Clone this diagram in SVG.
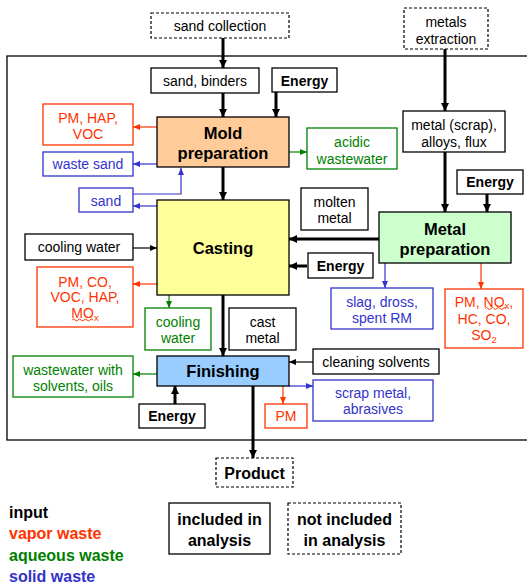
<svg xmlns="http://www.w3.org/2000/svg" width="527" height="586" viewBox="0 0 527 586">
<defs>
<style>
text{font-family:"Liberation Sans",Arial,sans-serif;font-size:14px;text-anchor:middle}
.b{font-weight:bold}
.big{font-weight:bold;font-size:16.5px}
.lg{font-weight:bold;font-size:16px}
.k{fill:#000}.r{fill:#FF3300}.g{fill:#008000}.u{fill:#3333CC}
.bx{fill:#fff;stroke:#000;stroke-width:1.3}
.dx{fill:#fff;stroke:#000;stroke-width:1.2;stroke-dasharray:3,2}
.rb{fill:#fff;stroke:#FF3300;stroke-width:1.3}
.gb{fill:#fff;stroke:#008000;stroke-width:1.3}
.ub{fill:#fff;stroke:#3333CC;stroke-width:1.3}
.thk{fill:none;stroke:#000;stroke-width:3;marker-end:url(#ak)}
.thn{fill:none;stroke:#000;stroke-width:1.2;marker-end:url(#at)}
.rl{fill:none;stroke:#FF3300;stroke-width:1.2;marker-end:url(#ar)}
.gl{fill:none;stroke:#008000;stroke-width:1.2;marker-end:url(#ag)}
.ul{fill:none;stroke:#3333CC;stroke-width:1.2;marker-end:url(#au)}
.sq{fill:none;stroke:#FF3300;stroke-width:1}
.sub{font-size:9.5px}
</style>
<marker id="ak" markerUnits="userSpaceOnUse" markerWidth="10" markerHeight="10" refX="8" refY="4" orient="auto"><path d="M0,0 L8,4 L0,8 z" fill="#000"/></marker>
<marker id="at" markerUnits="userSpaceOnUse" markerWidth="8" markerHeight="8" refX="7" refY="3" orient="auto"><path d="M0,0 L7,3 L0,6 z" fill="#000"/></marker>
<marker id="ar" markerUnits="userSpaceOnUse" markerWidth="8" markerHeight="8" refX="7" refY="3" orient="auto"><path d="M0,0 L7,3 L0,6 z" fill="#FF3300"/></marker>
<marker id="ag" markerUnits="userSpaceOnUse" markerWidth="8" markerHeight="8" refX="7" refY="3" orient="auto"><path d="M0,0 L7,3 L0,6 z" fill="#008000"/></marker>
<marker id="au" markerUnits="userSpaceOnUse" markerWidth="8" markerHeight="8" refX="7" refY="3" orient="auto"><path d="M0,0 L7,3 L0,6 z" fill="#3333CC"/></marker>
</defs>
<rect width="527" height="586" fill="#fff"/>
<rect id="boundary" x="7" y="56" width="522" height="384" fill="none" stroke="#000" stroke-width="1.3"/>

<g id="connectors">
<path class="thk" d="M223,38 V68"/>
<path class="thk" d="M223,93 V117"/>
<path class="thk" d="M276,92 V117"/>
<path class="rl" d="M157,127 H133"/>
<path class="ul" d="M157,164 H133"/>
<path class="ul" d="M133,194 H181 V168"/>
<path class="ul" d="M157,206 H133"/>
<path class="gl" d="M289,152 H307"/>
<path class="thk" d="M223,167 V200"/>
<path class="thk" d="M445,49 V111"/>
<path class="thk" d="M445,152 V212"/>
<path class="thk" d="M487,194 V212"/>
<path class="thk" d="M379,239 H289"/>
<path class="thk" d="M307,266 H289"/>
<path class="ul" d="M385,263 V288"/>
<path class="rl" d="M481,263 V289"/>
<path class="thn" d="M133,248 H157"/>
<path class="rl" d="M157,284 H133"/>
<path class="gl" d="M169,295 V308"/>
<path class="thk" d="M223,295 V356"/>
<path class="gl" d="M157,374 H133"/>
<path class="thk" d="M175,404 V386"/>
<path class="thn" d="M313,362 H289"/>
<path class="ul" d="M289,386 H313"/>
<path class="rl" d="M283,386 V404"/>
<path class="thk" d="M253,386 V458"/>
</g>

<g id="sand-collection"><rect class="dx" x="151" y="13" width="138" height="25"/><text x="220" y="31" class="k">sand collection</text></g>
<g id="metals-extraction"><rect class="dx" x="404" y="8" width="84" height="41"/><text x="446" y="27" class="k">metals</text><text x="446" y="43.5" class="k">extraction</text></g>
<g id="sand-binders"><rect class="bx" x="151" y="68" width="108" height="25"/><text x="205" y="85.5" class="k">sand, binders</text></g>
<g id="energy-mold"><rect class="bx" x="272" y="68" width="65" height="24"/><text x="304.5" y="85.5" class="b k">Energy</text></g>
<g id="mold-preparation"><rect x="157" y="117" width="132" height="50" fill="#FFCC99" stroke="#000" stroke-width="1.3"/><text x="223" y="138.5" class="big k">Mold</text><text x="223" y="158.5" class="big k">preparation</text></g>
<g id="pm-hap-voc"><rect class="rb" x="43" y="104" width="90" height="41"/><text x="88" y="122.5" class="r">PM, HAP,</text><text x="88" y="138.5" class="r">VOC</text></g>
<g id="waste-sand"><rect class="ub" x="43" y="152" width="90" height="24"/><text x="88" y="169" class="u">waste sand</text></g>
<g id="sand"><rect class="ub" x="79" y="188" width="54" height="24"/><text x="106" y="205.5" class="u">sand</text></g>
<g id="acidic-wastewater"><rect class="gb" x="307" y="128" width="90" height="41"/><text x="352" y="147" class="g">acidic</text><text x="352" y="163.5" class="g">wastewater</text></g>
<g id="metal-scrap"><rect class="bx" x="403" y="111" width="102" height="41"/><text x="454" y="130" class="k">metal (scrap),</text><text x="454" y="146.5" class="k">alloys, flux</text></g>
<g id="energy-metal"><rect class="bx" x="457" y="170" width="66" height="24"/><text x="490" y="187" class="b k">Energy</text></g>
<g id="molten-metal"><rect class="bx" x="301" y="188" width="67" height="42"/><text x="334.5" y="206.5" class="k">molten</text><text x="334.5" y="223" class="k">metal</text></g>
<g id="casting"><rect x="157" y="200" width="132" height="95" fill="#FFFF99" stroke="#000" stroke-width="1.3"/><text x="223" y="253.5" class="big k">Casting</text></g>
<g id="metal-preparation"><rect x="379" y="212" width="132" height="51" fill="#CCFFCC" stroke="#000" stroke-width="1.3"/><text x="445" y="234.5" class="big k">Metal</text><text x="445" y="254.5" class="big k">preparation</text></g>
<g id="cooling-water-in"><rect class="bx" x="25" y="234" width="108" height="26"/><text x="79" y="252" class="k">cooling water</text></g>
<g id="energy-casting"><rect class="bx" x="308" y="253" width="65" height="25"/><text x="340.5" y="270.5" class="b k">Energy</text></g>
<g id="pm-co-voc"><rect class="rb" x="37" y="267" width="96" height="60"/><text x="85" y="286.5" class="r">PM, CO,</text><text x="85" y="302" class="r">VOC, HAP,</text><text x="85" y="317.5" class="r">MO<tspan class="sub" baseline-shift="-3">x</tspan></text><path class="sq" d="M72,320 q1.5,-2 3,0 t3,0 t3,0 t3,0 t3,0 t3,0 t3,0"/></g>
<g id="slag"><rect class="ub" x="331" y="288" width="102" height="41"/><text x="382" y="307" class="u">slag, dross,</text><text x="382" y="323" class="u">spent RM</text></g>
<g id="pm-nox"><rect class="rb" x="445" y="289" width="78" height="59"/><text x="484" y="306.5" class="r">PM, NO<tspan class="sub" baseline-shift="-2">x</tspan>,</text><text x="484" y="324" class="r">HC, CO,</text><text x="484" y="340" class="r">SO<tspan class="sub" baseline-shift="-3">2</tspan></text><path class="sq" d="M485,308.5 q1.5,-2 3,0 t3,0 t3,0 t3,0 t3,0 t3,0 t3,0"/></g>
<g id="cooling-water-out"><rect class="gb" x="145" y="308" width="66" height="42"/><text x="178" y="327" class="g">cooling</text><text x="178" y="343" class="g">water</text></g>
<g id="cast-metal"><rect class="bx" x="229" y="308" width="67" height="42"/><text x="262.5" y="327" class="k">cast</text><text x="262.5" y="343" class="k">metal</text></g>
<g id="finishing"><rect x="157" y="356" width="132" height="30" fill="#99CCFF" stroke="#000" stroke-width="1.3"/><text x="223" y="377" class="big k">Finishing</text></g>
<g id="wastewater-solvents"><rect class="gb" x="13" y="356" width="120" height="41"/><text x="73" y="374.5" class="g">wastewater with</text><text x="73" y="391" class="g">solvents, oils</text></g>
<g id="cleaning-solvents"><rect class="bx" x="313" y="349" width="126" height="25"/><text x="376" y="366.5" class="k">cleaning solvents</text></g>
<g id="scrap-metal"><rect class="ub" x="313" y="380" width="120" height="41"/><text x="373" y="397.5" class="u">scrap metal,</text><text x="373" y="414" class="u">abrasives</text></g>
<g id="pm-finishing"><rect class="rb" x="265" y="404" width="42" height="24"/><text x="286" y="421" class="r">PM</text></g>
<g id="energy-finishing"><rect class="bx" x="139" y="404" width="66" height="24"/><text x="172" y="421" class="b k">Energy</text></g>
<g id="product"><rect class="dx" x="216" y="458" width="77" height="29"/><text x="254.5" y="479" class="lg k">Product</text></g>
<g id="legend-included"><rect class="bx" x="169" y="503" width="101" height="51"/><text x="219.5" y="525" class="lg k">included in</text><text x="219.5" y="546" class="lg k">analysis</text></g>
<g id="legend-not-included"><rect class="dx" x="288" y="503" width="113" height="51"/><text x="344.5" y="525" class="lg k">not included</text><text x="344.5" y="546" class="lg k">in analysis</text></g>
<g id="legend-colors">
<text x="9" y="518" class="lg k" style="text-anchor:start">input</text>
<text x="9" y="539" class="lg r" style="text-anchor:start">vapor waste</text>
<text x="9" y="561" class="lg g" style="text-anchor:start">aqueous waste</text>
<text x="9" y="582" class="lg u" style="text-anchor:start">solid waste</text>
</g>
</svg>
